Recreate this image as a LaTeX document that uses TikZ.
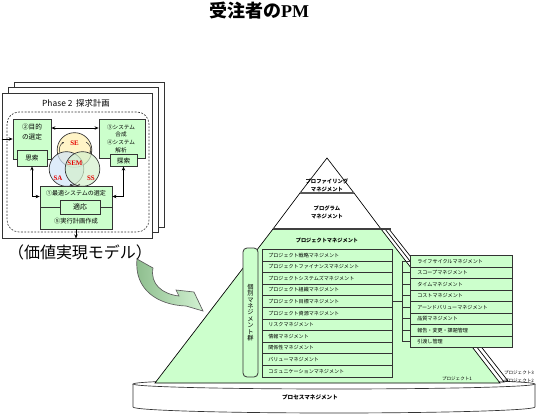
\documentclass[tikz,border=0pt]{standalone}
\usepackage{fontspec}
\setmainfont{Noto Sans CJK JP}
\newfontfamily\serifbf{Liberation Serif}
\usetikzlibrary{arrows.meta,calc}
\definecolor{lg}{HTML}{CCFFCC}
\definecolor{bd}{HTML}{333333}
\definecolor{seY}{HTML}{FFF0B0}
\definecolor{saB}{HTML}{D0E4F8}
\definecolor{ssG}{HTML}{D4F0CC}
\definecolor{arD}{HTML}{8CBC8C}
\definecolor{arL}{HTML}{D2F2D2}
\newcommand\myfs[2]{\fontsize{#1pt}{#2pt}\selectfont}
\tikzset{
  gbox/.style={draw=bd, line width=0.6pt, fill=lg, inner sep=0pt},
  rowL/.style={draw=bd, line width=0.5pt, fill=lg, anchor=north west, minimum height=8.7pt,
    text width=88.5pt, inner xsep=4.5pt, inner ysep=0pt, align=left, font=\myfs{3.8}{4.4}},
  rowR/.style={draw=bd, line width=0.5pt, fill=lg, anchor=north west, minimum height=8.625pt,
    text width=66pt, inner xsep=5.25pt, inner ysep=0pt, align=left, font=\myfs{3.8}{4.4}},
  arr/.style={draw=black, line width=0.5pt, -{Stealth[length=3pt,width=2.6pt]}},
  darr/.style={draw=black, line width=0.5pt, {Stealth[length=3pt,width=2.6pt]}-{Stealth[length=3pt,width=2.6pt]}},
  page/.style={draw=bd, line width=0.6pt, fill=white, minimum width=112.5pt, minimum height=108.75pt, inner sep=0pt},
  lbl/.style={inner sep=0pt, align=center},
  vc/.style={circle, draw=bd, line width=0.5pt, minimum size=26pt, inner sep=0pt, fill opacity=0.7},
  vlab/.style={inner sep=0pt, text=red!90!black, font=\serifbf\bfseries\myfs{5.2}{6}},
  swirl/.style={draw=bd, line width=0.4pt, -{Stealth[length=1.6pt,width=1.6pt]}},
  pyr/.style={draw=black, line width=0.5pt},
}
\begin{document}
\begin{tikzpicture}[x=0.75pt,y=-0.75pt]
\useasboundingbox (0,0) rectangle (537,415);

% title
\node[lbl, font=\myfs{13.5}{15}\bfseries] (title) at (259,11) {受注者の{\serifbf\bfseries PM}};

% ---------- left model ----------
\node[page] (pg3) at (89,154.5) {};
\node[page] (pg2) at (83,160) {};
\node[page] (pg1) at (77,165.5) {};
\node[lbl, font=\myfs{6.3}{7}] (ph) at (76,103) {Phase 2\ \ 探求計画};
\draw[draw=bd, line width=0.5pt, dash pattern=on 1.4pt off 1.1pt, rounded corners=9pt] (7,112) rectangle (149,232);

% boxes
\node[gbox, minimum width=28.5pt, minimum height=30pt] (b2) at (32,139) {};
\node[lbl, font=\myfs{5}{7.5}] (t2) at (32,132) {②目的\\の選定};
\node[gbox, minimum width=22.5pt, minimum height=12pt, font=\myfs{5}{6}] (s2) at (32,158) {思索};

\node[gbox, minimum width=34.5pt, minimum height=29.25pt] (b3) at (122,138.5) {};
\node[lbl, font=\myfs{4.2}{5.8}] (t3) at (121,138.5) {③システム\\合成\\④システム\\解析};
\node[gbox, minimum width=20.25pt, minimum height=8.5pt, font=\myfs{5}{6}] (s3) at (123.5,160.5) {探索};

\node[gbox, minimum width=54pt, minimum height=15.75pt] (b1) at (76,196.5) {};
\node[lbl, font=\myfs{4.5}{5}] (t1) at (76,193) {①最適システムの選定};
\node[gbox, minimum width=54pt, minimum height=16.5pt] (b5) at (76,218) {};
\node[lbl, font=\myfs{4.7}{5}] (t5) at (76,221) {⑤実行計画作成};
\node[gbox, minimum width=30pt, minimum height=10.5pt, font=\myfs{5.2}{6}] (s1) at (80,207) {適応};

% venn
\node[vc, fill=seY] (cSE) at (74.5,150) {};
\node[vc, fill=saB] (cSA) at (66.5,169) {};
\node[vc, fill=ssG] (cSS) at (82.5,169) {};
\node[vlab] (lSE) at (74.5,143) {SE};
\node[vlab] (lSEM) at (75,163) {SEM};
\node[vlab] (lSA) at (58,178) {SA};
\node[vlab] (lSS) at (91,178) {SS};
\coordinate (w1a) at (60,153); \coordinate (w1b) at (64,142);
\coordinate (w2a) at (86,142); \coordinate (w2b) at (90,153);
\coordinate (w3a) at (80,184); \coordinate (w3b) at (70,184);
\draw[swirl] (w1a) to[bend left=40] (w1b);
\draw[swirl] (w2a) to[bend left=40] (w2b);
\draw[swirl] (w3a) to[bend left=40] (w3b);

% arrows
\draw[darr] (b2.east |- 0,128) -- (b3.west |- 0,128);
\draw[arr] (pg1.west |- b2.west) -- (b2.west);
\draw[darr] (s2.south) |- (b1.west);
\draw[darr] (s3.south) |- (b1.east);
\draw[arr] (b5.south) -- (b5.south |- pg1.south);

\node[lbl, font=\myfs{12}{13}] (vm) at (80,252) {（価値実現モデル）};

% curved green arrow
\shadedraw[left color=arD, right color=arL, draw=bd!80, line width=0.5pt]
  (137,259) -- (153,268) .. controls (150,284) and (162,294) .. (179,296)
  -- (176,290) -- (194,292) -- (203,311) -- (186,306)
  .. controls (158,305) and (134,290) .. (137,259) -- cycle;

% ---------- pyramid ----------
% cylinder
\fill[white] (133,384) -- (133,407) arc[start angle=180, end angle=0, x radius=201, y radius=6] -- (535,384) -- cycle;
\draw[draw=bd, line width=0.5pt] (133,384) -- (133,407) arc[start angle=180, end angle=0, x radius=201, y radius=6] -- (535,384);
\draw[draw=bd, line width=0.5pt, fill=white] (334,384) ellipse[x radius=201, y radius=5];
\node[lbl, font=\myfs{4.2}{5}\bfseries] (ps) at (310,397) {プロセスマネジメント};

% back project layers
\draw[pyr, fill=white] (281,229) -- (389,229) -- (508,381) -- (163,381) -- cycle;
\draw[pyr, fill=white] (277,229) -- (385,229) -- (504,382) -- (159,382) -- cycle;
% project 1
\draw[pyr, fill=lg] (273,229) -- (381,229) -- (500,383) -- (155,383) -- cycle;
\draw[draw=black!75, line width=1.4pt] (273,229) -- (391,229);
% upper sections
\draw[pyr, fill=white] (300,193) -- (354,193) -- (381,229) -- (273,229) -- cycle;
\draw[pyr, fill=white] (327,158) -- (354,193) -- (300,193) -- cycle;
\draw[draw=black!65, line width=1.2pt] (300,193) -- (354,193);
\draw[draw=black!75, line width=1.4pt] (273,229) -- (381,229);

\node[lbl, font=\myfs{4}{6}\bfseries] (pf) at (327,185) {プロファイリング\\マネジメント};
\node[lbl, font=\myfs{4}{6}\bfseries] (pgm) at (327,212) {プログラム\\マネジメント};
\node[lbl, font=\myfs{3.9}{5}\bfseries] (pm) at (327,240) {プロジェクトマネジメント};

% left list
\foreach \t [count=\i] in {プロジェクト戦略マネジメント,プロジェクトファイナンスマネジメント,プロジェクトシステムズマネジメント,プロジェクト組織マネジメント,プロジェクト目標マネジメント,プロジェクト資源マネジメント,リスクマネジメント,情報マネジメント,関係性マネジメント,バリューマネジメント,コミュニケーションマネジメント}
  \node[rowL] (L\i) at (262,{249+(\i-1)*11.6}) {\t};

\node[gbox, rounded corners=3pt, minimum width=11.25pt, minimum height=96.75pt,
  font=\myfs{4.7}{4.8}, align=center] (kb) at (250.5,312.5) {個\\別\\マ\\ネ\\ジ\\メ\\ン\\ト\\群};

% right list
\foreach \t [count=\i] in {ライフサイクルマネジメント,スコープマネジメント,タイムマネジメント,コストマネジメント,アーンドバリューマネジメント,品質マネジメント,報告・変更・課題管理,引渡し管理}
  \node[rowR] (R\i) at (410,{255+(\i-1)*11.5}) {\t};

\coordinate (bk) at ($(R1.west)+(-6pt,0)$);
\draw[draw=bd, line width=0.5pt] (bk) -- (bk |- R8.west);
\foreach \i in {1,...,8} \draw[draw=bd, line width=0.5pt] (R\i.west) -- (bk |- R\i.west);
\draw[draw=bd, line width=0.5pt] (L5.east) -- (L5.east -| bk);

\node[lbl, font=\myfs{3.4}{4}] (p1) at (457,379) {プロジェクト1};
\node[lbl, font=\myfs{3.4}{4}] (p3) at (519,373) {プロジェクト3};
\node[lbl, font=\myfs{3.4}{4}] (p2) at (519,381) {プロジェクト2};
\end{tikzpicture}
\end{document}
